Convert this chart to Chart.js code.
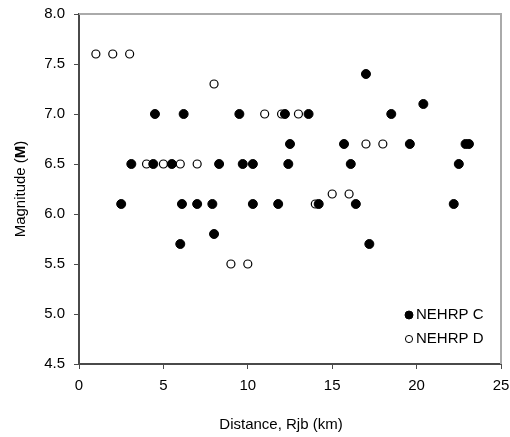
<!DOCTYPE html>
<html>
<head>
<meta charset="utf-8">
<script src="https://cdn.jsdelivr.net/npm/chart.js@4"></script>
<style>
  html, body { margin: 0; padding: 0; background: #fff; }
  canvas { display: block; }
</style>
</head>
<body>
<canvas id="chart" width="510" height="437"></canvas>
<script>
// Site class C records (distance km, magnitude)
const siteC_x = [2.5, 3.1, 4.4, 4.5, 5.5, 6.0, 6.1, 6.2, 7.0, 7.9, 8.0, 8.3, 9.5, 9.7, 10.3, 10.3, 11.8,
  12.2, 12.4, 12.5, 13.6, 14.2, 15.7, 16.1, 16.4, 17.0, 17.2, 18.5, 19.6, 20.4, 22.2, 22.5, 22.9, 23.1];
const siteC_y = [6.1, 6.5, 6.5, 7.0, 6.5, 5.7, 6.1, 7.0, 6.1, 6.1, 5.8, 6.5, 7.0, 6.5, 6.5, 6.1, 6.1,
  7.0, 6.5, 6.7, 7.0, 6.1, 6.7, 6.5, 6.1, 7.4, 5.7, 7.0, 6.7, 7.1, 6.1, 6.5, 6.7, 6.7];

// Site class D records
const siteD_x = [1, 2, 3, 8, 11, 12, 13, 4, 5, 6, 7, 17, 18, 15, 16, 14, 9, 10];
const siteD_y = [7.6, 7.6, 7.6, 7.3, 7.0, 7.0, 7.0, 6.5, 6.5, 6.5, 6.5, 6.7, 6.7, 6.2, 6.2, 6.1, 5.5, 5.5];

const seriesLabels = ["NEHRP C", "NEHRP D"];
const xTitle = "Distance, Rjb (km)";
const yTitle = ["Magnitude (", "M", ")"];

const FONT = "'Liberation Sans', Arial, sans-serif";
const AXIS = "#4a4a4a";

const toPoints = (xs, ys) => xs.map((x, i) => ({ x, y: ys[i] }));

// grey frame on top/right, like the original plot area
const framePlugin = {
  id: "frame",
  beforeDatasetsDraw(chart) {
    const { ctx, chartArea: a } = chart;
    ctx.save();
    ctx.strokeStyle = "#aaaaaa";
    ctx.lineWidth = 2;
    ctx.beginPath();
    ctx.moveTo(a.left, a.top);
    ctx.lineTo(a.right, a.top);
    ctx.lineTo(a.right, a.bottom);
    ctx.stroke();
    ctx.restore();
  }
};

// axis titles (bold M) and legend inside the plot
const labelsPlugin = {
  id: "labels",
  afterDraw(chart) {
    const { ctx, chartArea: a } = chart;
    ctx.save();
    ctx.fillStyle = "#000";
    ctx.textBaseline = "middle";

    // x title
    ctx.font = "15px " + FONT;
    ctx.textAlign = "center";
    ctx.fillText(xTitle, 281, 425);

    // y title, rotated, with bold M
    ctx.translate(21, (a.top + a.bottom) / 2);
    ctx.rotate(-Math.PI / 2);
    const fonts = ["15px " + FONT, "bold 15px " + FONT, "15px " + FONT];
    let total = 0;
    const widths = yTitle.map((t, i) => { ctx.font = fonts[i]; const w = ctx.measureText(t).width; total += w; return w; });
    let x = -total / 2;
    ctx.textAlign = "left";
    yTitle.forEach((t, i) => { ctx.font = fonts[i]; ctx.fillText(t, x, 0); x += widths[i]; });
    ctx.restore();

    // legend
    ctx.save();
    ctx.font = "15px " + FONT;
    ctx.textBaseline = "middle";
    ctx.textAlign = "left";
    chart.data.datasets.forEach((ds, i) => {
      const cy = 315 + i * 24;
      ctx.beginPath();
      ctx.arc(409, cy, i === 0 ? 4 : 3.6, 0, Math.PI * 2);
      ctx.fillStyle = ds.backgroundColor;
      ctx.fill();
      ctx.lineWidth = 1;
      ctx.strokeStyle = ds.borderColor;
      ctx.stroke();
      ctx.fillStyle = "#000";
      ctx.fillText(ds.label, 416, cy);
    });
    ctx.restore();
  }
};

new Chart(document.getElementById("chart"), {
  type: "scatter",
  data: {
    datasets: [
      {
        label: seriesLabels[0],
        data: toPoints(siteC_x, siteC_y),
        pointRadius: 4.5,
        pointHoverRadius: 4.5,
        backgroundColor: "#000",
        borderColor: "#000",
        borderWidth: 1
      },
      {
        label: seriesLabels[1],
        data: toPoints(siteD_x, siteD_y),
        pointRadius: 4,
        pointHoverRadius: 4,
        backgroundColor: "#fff",
        borderColor: "#000",
        borderWidth: 1.2
      }
    ]
  },
  options: {
    responsive: false,
    animation: false,
    layout: { padding: { top: 14, right: 9, left: 0, bottom: 0 } },
    plugins: {
      legend: { display: false },
      tooltip: { enabled: false }
    },
    scales: {
      x: {
        type: "linear",
        min: 0,
        max: 25,
        ticks: { stepSize: 5, color: "#000", padding: 8, font: { family: FONT, size: 15 } },
        grid: { drawOnChartArea: false, color: AXIS, tickLength: 5 },
        border: { color: AXIS, width: 2 },
        afterFit(scale) {
          scale.height = 73;
          scale.paddingLeft = 0;
          scale.paddingRight = 0;
        }
      },
      y: {
        min: 4.5,
        max: 8,
        ticks: {
          stepSize: 0.5,
          color: "#000",
          padding: 9,
          font: { family: FONT, size: 15 },
          callback: v => v.toFixed(1)
        },
        grid: { drawOnChartArea: false, color: AXIS, tickLength: 5 },
        border: { color: AXIS, width: 2 },
        afterFit(scale) {
          scale.width = 79;
          scale.paddingTop = 0;
          scale.paddingBottom = 0;
        }
      }
    }
  },
  plugins: [framePlugin, labelsPlugin]
});
</script>
</body>
</html>
